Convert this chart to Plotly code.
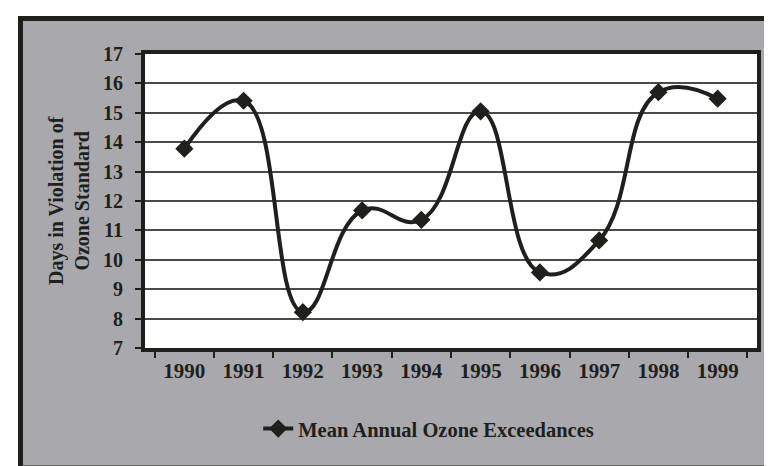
import plotly.graph_objects as go

years = ["1990", "1991", "1992", "1993", "1994", "1995", "1996", "1997", "1998", "1999"]
exceedances = [13.78, 15.41, 8.22, 11.68, 11.36, 15.05, 9.57, 10.66, 15.70, 15.48]
series_name = "Mean Annual Ozone Exceedances"
y_title = "Days in Violation of<br>Ozone Standard"
y_ticks = list(range(7, 18))

W, H = 772, 466
L, R, T, B = 137, 23, 46, 126
PW, PH = W - L - R, H - T - B

def px_x(p):
    return (p - L) / PW

def px_y(p):
    return (H - B - p) / PH

INK = "#1f1f1c"
GRAY = "#a9a8ad"
FONT = "Liberation Serif"

fig = go.Figure()
fig.add_trace(go.Scatter(
    x=years, y=exceedances, name=series_name, mode="lines+markers",
    line=dict(color=INK, width=4, shape="spline", smoothing=1.3),
    marker=dict(symbol="diamond", size=14, color=INK),
))

fig.update_layout(
    width=W, height=H,
    margin=dict(l=L, r=R, t=T, b=B),
    paper_bgcolor="white", plot_bgcolor="white",
    font=dict(family=FONT, color=INK),
    showlegend=True,
    legend=dict(orientation="h", xref="container", yref="container",
                x=0.545, y=0.097, xanchor="center", yanchor="middle",
                bgcolor="rgba(0,0,0,0)",
                font=dict(family=FONT, size=20.5, color=INK, weight="bold")),
    xaxis=dict(type="category", showgrid=False, showline=True, mirror=True,
               linecolor=INK, linewidth=4, ticks="outside", tickson="boundaries",
               ticklen=6, tickcolor=INK, tickwidth=1.5, ticklabelstandoff=1,
               tickfont=dict(family=FONT, size=21, color=INK, weight="bold"),
               fixedrange=True),
    yaxis=dict(range=[7, 17], tickvals=y_ticks, showgrid=True, gridcolor="#4a4a4a",
               gridwidth=1.5, zeroline=False, showline=True, mirror=True,
               linecolor=INK, linewidth=4, ticks="outside", ticklen=6,
               tickcolor=INK, tickwidth=1.5, ticklabelstandoff=8,
               tickfont=dict(family=FONT, size=20, color=INK, weight="bold"),
               fixedrange=True),
    shapes=[
        dict(type="rect", xref="paper", yref="paper", layer="below",
             x0=px_x(12.5), x1=px_x(800), y0=px_y(460), y1=px_y(10.5),
             fillcolor=GRAY, line=dict(color=INK, width=5)),
        dict(type="rect", xref="x domain", yref="y domain", layer="below",
             x0=0, x1=1, y0=0, y1=1, fillcolor="white", line=dict(width=0)),
    ],
    annotations=[
        dict(text=y_title, xref="paper", yref="paper", x=px_x(61), y=0.5,
             xanchor="center", yanchor="middle", textangle=-90, showarrow=False,
             font=dict(family=FONT, size=20, color=INK, weight="bold")),
    ],
)

fig.write_html("out.html")
